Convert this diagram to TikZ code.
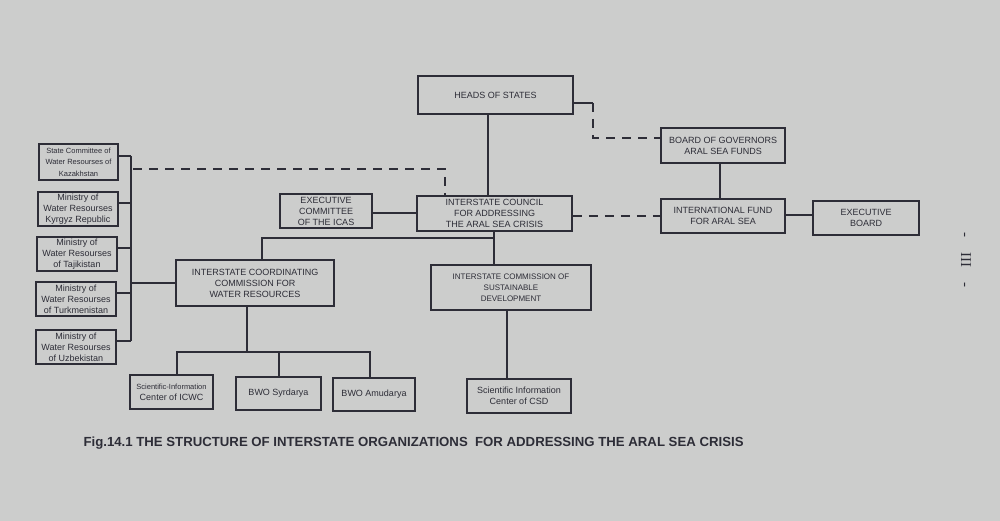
\documentclass[tikz,border=0pt]{standalone}
\usepackage{fontspec}
\setmainfont{Liberation Sans}
\newfontfamily\pagefont{Liberation Serif}
\usepackage{xcolor}
\usetikzlibrary{positioning}

\definecolor{paper}{RGB}{204,205,204}
\definecolor{ink}{RGB}{45,45,55}

\tikzset{
  orgbox/.style={draw=ink, line width=1.6pt, align=center, inner sep=1pt,
    text=ink, font=\fontsize{9}{11}\selectfont},
  smallbox/.style={orgbox, font=\fontsize{7.5}{11.5}\selectfont},
  link/.style={draw=ink, line width=1.6pt},
  dlink/.style={link, dash pattern=on 9pt off 7pt},
}

\begin{document}
\begin{tikzpicture}[x=1pt, y=-1pt]
\useasboundingbox[fill=paper] (0,0) rectangle (1000,521);
% top level
\node[orgbox, minimum width=155, minimum height=38] (heads) at (495.5,95) {HEADS OF STATES};
\node[orgbox, minimum width=155, minimum height=35] (council) at (494.5,213.5) {INTERSTATE COUNCIL\\FOR ADDRESSING\\THE ARAL SEA CRISIS};
\node[orgbox, minimum width=92, minimum height=34] (execcom) at (326,211) {EXECUTIVE\\COMMITTEE\\OF THE ICAS};
% fund side
\node[orgbox, minimum width=124, minimum height=35] (board) at (723,145.5) {BOARD OF GOVERNORS\\ARAL SEA FUNDS};
\node[orgbox, minimum width=124, minimum height=34] (fund) at (723,216) {INTERNATIONAL FUND\\FOR ARAL SEA};
\node[orgbox, minimum width=106, minimum height=34] (execboard) at (866,218) {EXECUTIVE\\BOARD};
% national bodies
\node[smallbox, minimum width=79, minimum height=36] (kaz) at (78.5,162) {State Committee of\\Water Resourses of\\Kazakhstan};
\node[orgbox, minimum width=80, minimum height=34] (kyr) at (78,209) {Ministry of\\Water Resourses\\Kyrgyz Republic};
\node[orgbox, minimum width=80, minimum height=34] (taj) at (77,254) {Ministry of\\Water Resourses\\of Tajikistan};
\node[orgbox, minimum width=80, minimum height=34] (turk) at (76,299) {Ministry of\\Water Resourses\\of Turkmenistan};
\node[orgbox, minimum width=80, minimum height=34] (uzb) at (76,347) {Ministry of\\Water Resourses\\of Uzbekistan};
% commissions
\node[orgbox, minimum width=158, minimum height=46] (icwc) at (255,283) {INTERSTATE COORDINATING\\COMMISSION FOR\\WATER RESOURCES};
\node[orgbox, font=\fontsize{8}{11}\selectfont, minimum width=160, minimum height=45] (isd) at (511,287.5) {INTERSTATE COMMISSION OF\\SUSTAINABLE\\DEVELOPMENT};
% lower level
\node[orgbox, minimum width=83, minimum height=34] (sicwc) at (171.5,392) {{\fontsize{7.5}{9}\selectfont Scientific-Information}\\Center of ICWC};
\node[orgbox, minimum width=85, minimum height=33] (syr) at (278.5,393.5) {BWO Syrdarya};
\node[orgbox, minimum width=82, minimum height=33] (amu) at (374,394.5) {BWO Amudarya};
\node[orgbox, minimum width=104, minimum height=34] (csd) at (519,396) {Scientific Information\\Center of CSD};

% junction points
\coordinate (hsturn) at (593,103);
\coordinate (kzdash) at (133,169);
\coordinate (bus) at (131,0);
\coordinate (cbranch) at (494,238);
\coordinate (wbranch) at (247,352);

% heads of states links
\draw[link] ([xshift=-7.5]heads.south) -- ([xshift=-7.5]heads.south |- council.north);
\draw[link] ([yshift=-8]heads.east) -- (hsturn);
\draw[dlink] (hsturn) |- ([yshift=7.5]board.west);
% fund links
\draw[link] ([xshift=-3]board.south) -- ([xshift=-3]fund.north);
\draw[dlink] (council.east |- fund.west) -- (fund.west);
\draw[link] ([yshift=1]fund.east) -- ([yshift=1]fund.east -| execboard.west);
\draw[link] ([yshift=-2]execcom.east) -- ([yshift=-2]execcom.east -| council.west);
% national bodies bus
\foreach \m in {kaz,kyr,taj,turk,uzb}
  \draw[link] ([yshift=6]\m.east) -- ([yshift=6]\m.east -| bus);
\draw[link] ([yshift=6]kaz.east -| bus) -- ([yshift=6]uzb.east -| bus);
\draw[link] (icwc.west) -- (icwc.west -| bus);
\draw[dlink] (kzdash) -| ([xshift=-49.5]council.north);
% council to commissions
\draw[link] ([xshift=-0.5]council.south) -- ([xshift=-0.5]council.south |- isd.north);
\draw[link] (cbranch) -| ([xshift=7]icwc.north);
% commission branches
\draw[link] ([xshift=-8]icwc.south) -- (wbranch);
\draw[link] ([xshift=5.5]sicwc.north) |- (wbranch);
\draw[link] ([xshift=-4]amu.north) |- (wbranch);
\draw[link] ([xshift=0.5]syr.north) -- ([xshift=0.5]syr.north |- wbranch);
\draw[link] ([xshift=-4]isd.south) -- ([xshift=-4]isd.south |- csd.north);

% caption
\node[anchor=west, text=ink, font=\bfseries\fontsize{13.2}{15}\selectfont] (caption) at (80,443)
  {Fig.14.1 THE STRUCTURE OF INTERSTATE ORGANIZATIONS\ \ FOR ADDRESSING THE ARAL SEA CRISIS};
\node[rotate=-90, text=ink, font=\pagefont\fontsize{15}{17}\selectfont] (pagemark) at (966,260) {-\quad III\quad -};
\end{tikzpicture}
\end{document}
